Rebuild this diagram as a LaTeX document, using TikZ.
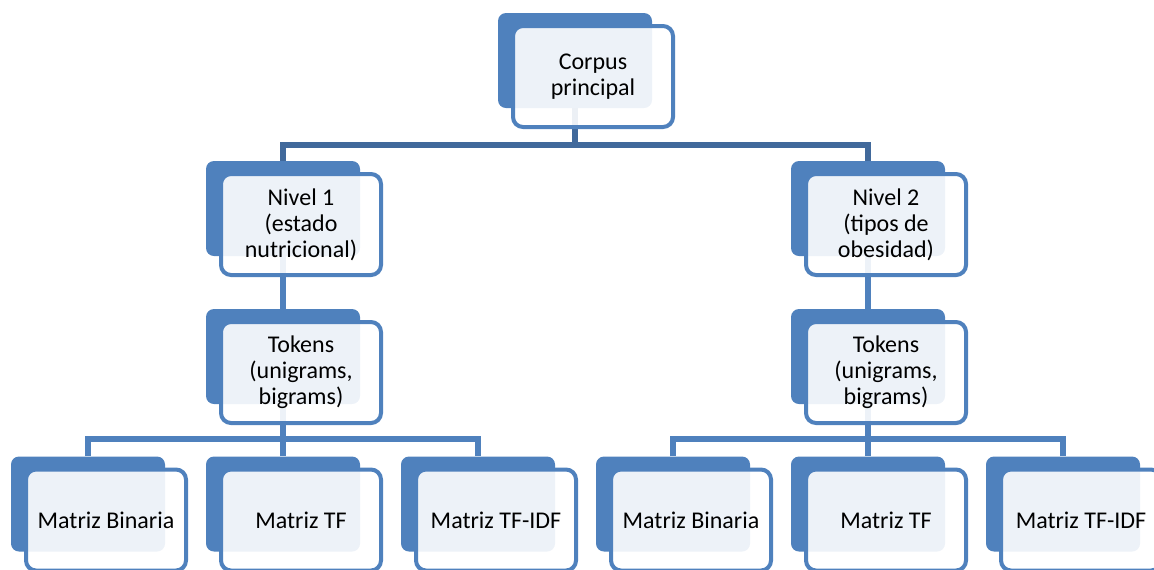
\documentclass[tikz,border=0pt]{standalone}
\usepackage{fontspec}
\setmainfont{Carlito}
\usetikzlibrary{backgrounds}

\definecolor{boxblue}{HTML}{4F81BD}
\definecolor{busblue}{HTML}{41699B}

\tikzset{
  back/.style={fill=boxblue, rounded corners=4pt, minimum width=77pt, minimum height=47.5pt, inner sep=0pt},
  front/.style={draw=boxblue, line width=2pt, fill=white, fill opacity=0.9, text opacity=1,
    rounded corners=5pt, minimum width=80pt, minimum height=50.5pt, inner sep=0pt,
    align=center, font=\fontsize{12}{13}\selectfont},
  link/.style={draw=boxblue, line width=2.6pt},
  toplink/.style={draw=busblue, line width=2.6pt},
}

\begin{document}
\begin{tikzpicture}[x=0.5pt,y=-0.5pt]
  \useasboundingbox (0,0) rectangle (1154,569);

  % root
  \node[back] (corpus) at (575,60.5) {};
  \node[front] (corpus-f) at ([shift={(18,16)}]corpus) {Corpus\\principal};

  % levels
  \node[back] (nivel1) at (283,208.5) {};
  \node[front] (nivel1-f) at ([shift={(18,16)}]nivel1) {Nivel 1\\(estado\\nutricional)};
  \node[back] (nivel2) at (868,208.5) {};
  \node[front] (nivel2-f) at ([shift={(18,16)}]nivel2) {Nivel 2\\(tipos de\\obesidad)};

  \foreach \x/\n in {283/tok1, 868/tok2}{
    \node[back] (\n) at (\x,356.5) {};
    \node[front] (\n-f) at ([shift={(18,16)}]\n) {Tokens\\(unigrams,\\bigrams)};
  }

  % matrices
  \foreach \x/\n/\t in {88/bin1/Matriz Binaria, 283/tf1/Matriz TF, 478/idf1/Matriz TF-IDF,
                        673/bin2/Matriz Binaria, 868/tf2/Matriz TF, 1063/idf2/Matriz TF-IDF}{
    \node[back] (\n) at (\x,504) {};
    \node[front] (\n-f) at ([shift={(18,16)}]\n) {\t};
  }

  \begin{scope}[on background layer]
    \coordinate (bus0) at (575,145);
    \draw[toplink] (corpus) -- (bus0);
    \draw[toplink] (nivel1) |- (bus0) -| (nivel2);

    \draw[link] (nivel1) -- (tok1);
    \draw[link] (nivel2) -- (tok2);

    \foreach \i in {1,2}{
      \coordinate (bus\i) at (tok\i |- 0,439);
      \draw[link] (tok\i) -- (tf\i);
      \draw[link] (bin\i) |- (bus\i) -| (idf\i);
    }
  \end{scope}
\end{tikzpicture}
\end{document}
